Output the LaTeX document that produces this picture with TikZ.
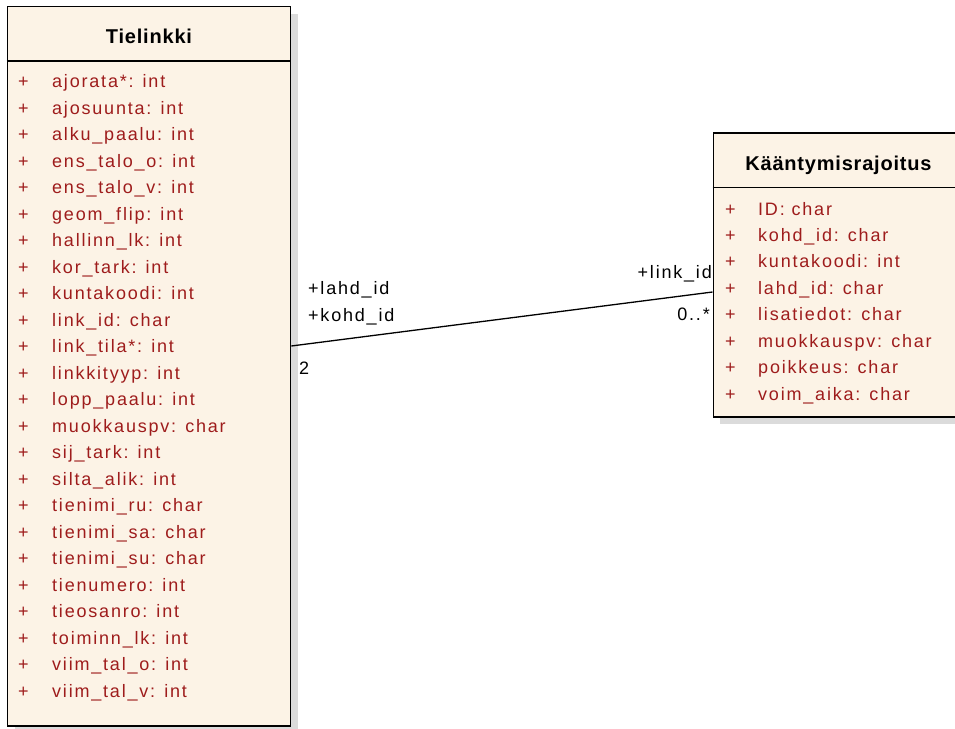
\documentclass[tikz,border=0pt]{standalone}
\usepackage{fontspec}
\setmainfont[LetterSpace=10]{Liberation Sans}
\newfontfamily\headfont[LetterSpace=4]{Liberation Sans}
\usetikzlibrary{shadows}
\definecolor{umlfill}{RGB}{252,243,230}
\definecolor{umlred}{RGB}{158,28,28}
\tikzset{
	classbox/.style={draw=black, line width=1.6pt, fill=umlfill, inner sep=0pt,
		drop shadow={shadow xshift=7pt, shadow yshift=-7pt, fill=black!14, opacity=1}},
	classname/.style={font=\headfont\fontsize{20}{22}\selectfont\bfseries, anchor=base, inner sep=0pt},
	attr/.style={font=\fontsize{18}{20}\selectfont, text=umlred, anchor=base west, inner sep=0pt},
	role/.style={font=\fontsize{18}{20}\selectfont, inner sep=0pt},
}
\begin{document}
\begin{tikzpicture}[x=1pt,y=-1pt]
	\useasboundingbox (0,0) rectangle (955,728);
	\clip (0,0) rectangle (955,728);
	% luokat
	\node[classbox, minimum width=283pt, minimum height=719.5pt] (tie) at (149,366.25) {};
	\node[classbox, minimum width=300pt, minimum height=284pt] (kaan) at (863.3,274.7) {};
	\draw[line width=1.6pt] ([yshift=-55.5pt]tie.north west) -- ([yshift=-55.5pt]tie.north east);
	\draw[line width=1.6pt] ([yshift=-55.5pt]kaan.north west) -- ([yshift=-55.5pt]kaan.north east);
	\node[classname] (tiename) at (149,43.3) {Tielinkki};
	\node[classname] (kaanname) at (838.5,170) {Kääntymisrajoitus};
	% attribuutit
	\foreach \a [count=\i] in {ajorata*: int, ajosuunta: int, alku\_paalu: int, ens\_talo\_o: int,
		ens\_talo\_v: int, geom\_flip: int, hallinn\_lk: int, kor\_tark: int, kuntakoodi: int,
		link\_id: char, link\_tila*: int, linkkityyp: int, lopp\_paalu: int, muokkauspv: char,
		sij\_tark: int, silta\_alik: int, tienimi\_ru: char, tienimi\_sa: char, tienimi\_su: char,
		tienumero: int, tieosanro: int, toiminn\_lk: int, viim\_tal\_o: int, viim\_tal\_v: int}{
		\node[attr] (tp\i) at (18,{87.5+26.5*(\i-1)}) {+};
		\node[attr] (ta\i) at (52,{87.5+26.5*(\i-1)}) {\a};
	}
	\foreach \a [count=\i] in {ID: char, kohd\_id: char, kuntakoodi: int, lahd\_id: char,
		lisatiedot: char, muokkauspv: char, poikkeus: char, voim\_aika: char}{
		\node[attr] (kp\i) at (725,{215+26.45*(\i-1)}) {+};
		\node[attr] (ka\i) at (758,{215+26.45*(\i-1)}) {\a};
	}
	% assosiaatio
	\draw[line width=1.3pt] ([yshift=20.25pt]tie.east) -- ([yshift=-17.3pt]kaan.west);
	\node[role, anchor=base west] (lahd) at (308,294.3) {+lahd\_id};
	\node[role, anchor=base west] (kohd) at (308,321) {+kohd\_id};
	\node[role, anchor=base west] (two) at (299,374.3) {2};
	\node[role, anchor=base east] (link) at (712,278.3) {+link\_id};
	\node[role, anchor=base east] (many) at (710,320.7) {0..*};
\end{tikzpicture}
\end{document}
